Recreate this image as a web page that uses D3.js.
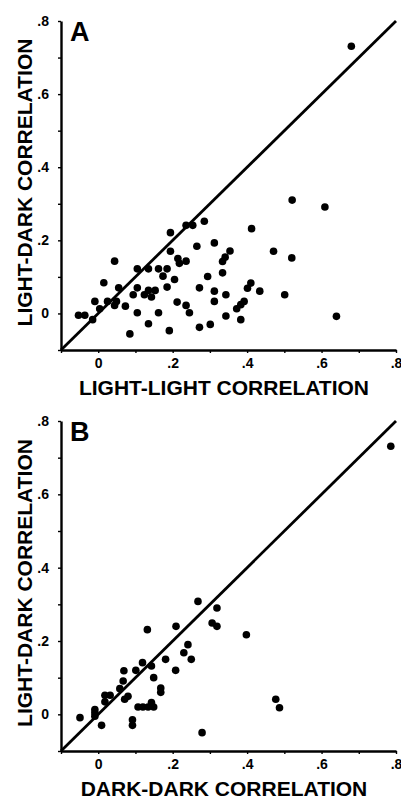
<!DOCTYPE html>
<html>
<head>
<meta charset="utf-8">
<script src="https://cdn.jsdelivr.net/npm/d3@7"></script>
<style>
  body { margin: 0; background: #fff; }
  svg { display: block; font-family: "Liberation Sans", Arial, sans-serif; }
</style>
</head>
<body>
<div id="chart"></div>
<script>
// data: panel A (light-light vs light-dark)
const lightLightA = [0.680, 0.521, 0.609, 0.412, 0.471, 0.520, 0.354, 0.341, 0.334, 0.312,
  0.265, 0.285, 0.254, 0.236, 0.194, 0.194, 0.236, 0.214, 0.218, 0.044,
  0.105, 0.135, 0.162, 0.185, 0.174, 0.205, 0.015, 0.055, 0.105, 0.094,
  0.124, 0.135, 0.153, 0.143, 0.185, -0.009, 0.025, 0.049, 0.004, 0.044,
  0.073, -0.053, -0.036, -0.015, 0.105, 0.162, 0.212, 0.236, 0.245, 0.135,
  0.085, 0.191, 0.294, 0.334, 0.272, 0.312, 0.312, 0.343, 0.410, 0.401,
  0.434, 0.501, 0.392, 0.383, 0.372, 0.343, 0.383, 0.272, 0.301, 0.640];
const lightDarkA = [0.731, 0.310, 0.291, 0.232, 0.170, 0.152, 0.171, 0.154, 0.142, 0.193,
  0.184, 0.252, 0.241, 0.241, 0.221, 0.170, 0.143, 0.150, 0.137, 0.143,
  0.122, 0.122, 0.122, 0.122, 0.102, 0.093, 0.084, 0.070, 0.070, 0.051,
  0.051, 0.063, 0.063, 0.045, 0.072, 0.033, 0.033, 0.033, 0.013, 0.022,
  0.020, -0.005, -0.005, -0.017, 0.002, 0.002, 0.031, 0.022, 0.002, -0.028,
  -0.056, -0.047, 0.101, 0.111, 0.070, 0.061, 0.033, 0.051, 0.083, 0.069,
  0.061, 0.051, 0.033, 0.024, 0.013, -0.007, -0.017, -0.038, -0.030, -0.008];

// data: panel B (dark-dark vs light-dark)
const darkDarkB = [0.786, 0.268, 0.319, 0.306, 0.319, 0.209, 0.132, 0.398, 0.241, 0.230,
  0.250, 0.181, 0.119, 0.143, 0.101, 0.069, 0.208, 0.149, 0.067, 0.168,
  0.168, 0.058, 0.018, 0.032, 0.080, 0.071, 0.018, 0.107, 0.120, 0.134,
  0.143, 0.149, -0.009, -0.009, -0.049, -0.009, 0.009, 0.092, 0.092, 0.279,
  0.477, 0.487];
const lightDarkB = [0.731, 0.308, 0.290, 0.249, 0.240, 0.240, 0.231, 0.217, 0.190, 0.168,
  0.150, 0.150, 0.141, 0.132, 0.120, 0.119, 0.120, 0.100, 0.091, 0.072,
  0.060, 0.070, 0.052, 0.052, 0.049, 0.041, 0.034, 0.020, 0.020, 0.020,
  0.032, 0.020, 0.013, 0.004, -0.009, -0.005, -0.030, -0.015, -0.030, -0.050,
  0.041, 0.018];

// axes
const axisDomain = [-0.1, 0.8];
const minorTicks = [-0.1, 0, 0.1, 0.2, 0.3, 0.4, 0.5, 0.6, 0.7, 0.8];
const tickLabels = {"0": "0", "0.2": ".2", "0.4": ".4", "0.6": ".6", "0.8": ".8"};

const svg = d3.select("#chart").append("svg")
    .attr("width", 401)
    .attr("height", 801);

function drawPanel(opts) {
    const xScale = d3.scaleLinear().domain(axisDomain).range([61, 396]);
    const yScale = d3.scaleLinear().domain(axisDomain).range([opts.bottom, opts.top]);

    const g = svg.append("g");

    // x axis
    const xAxis = g.append("g")
        .attr("transform", "translate(0," + opts.bottom + ")")
        .call(d3.axisBottom(xScale)
            .tickValues(minorTicks)
            .tickSize(3)
            .tickSizeOuter(0)
            .tickPadding(5)
            .tickFormat(d => tickLabels[String(d)] || ""));

    // y axis
    const yAxis = g.append("g")
        .attr("transform", "translate(61,0)")
        .call(d3.axisLeft(yScale)
            .tickValues(minorTicks)
            .tickSize(3)
            .tickSizeOuter(0)
            .tickPadding(9)
            .tickFormat(d => tickLabels[String(d)] || ""));

    [xAxis, yAxis].forEach(a => {
        a.select(".domain").attr("stroke", "#000").attr("stroke-width", 2.4);
        a.selectAll(".tick line").attr("stroke", "#000").attr("stroke-width", 1.4);
        a.selectAll(".tick text")
            .attr("fill", "#000")
            .style("font-size", "14px")
            .style("font-weight", "bold");
    });

    // identity line
    g.append("line")
        .attr("x1", xScale(-0.1))
        .attr("y1", yScale(-0.1))
        .attr("x2", xScale(0.8))
        .attr("y2", yScale(0.8))
        .attr("stroke", "#000")
        .attr("stroke-width", 2.8);

    // points
    g.selectAll("circle")
        .data(opts.xs.map((v, i) => [v, opts.ys[i]]))
        .enter()
        .append("circle")
        .attr("cx", d => xScale(d[0]))
        .attr("cy", d => yScale(d[1]))
        .attr("r", 3.8)
        .attr("fill", "#000");

    // panel letter
    g.append("text")
        .attr("x", 70)
        .attr("y", opts.top + 20)
        .style("font-size", "27px")
        .style("font-weight", "bold")
        .text(opts.letter);

    // axis titles
    g.append("text")
        .attr("x", 224)
        .attr("y", opts.bottom + 45)
        .style("text-anchor", "middle")
        .style("font-size", "21px")
        .style("font-weight", "bold")
        .text(opts.xTitle);

    g.append("text")
        .attr("transform", "translate(32," + ((opts.top + opts.bottom) / 2 - 3) + ") rotate(-90)")
        .style("text-anchor", "middle")
        .style("font-size", "21px")
        .style("font-weight", "bold")
        .text(opts.yTitle);
}

drawPanel({
    letter: "A", top: 21, bottom: 350,
    xs: lightLightA, ys: lightDarkA,
    xTitle: "LIGHT-LIGHT CORRELATION", yTitle: "LIGHT-DARK CORRELATION"
});

drawPanel({
    letter: "B", top: 421, bottom: 751,
    xs: darkDarkB, ys: lightDarkB,
    xTitle: "DARK-DARK CORRELATION", yTitle: "LIGHT-DARK CORRELATION"
});
</script>
</body>
</html>
